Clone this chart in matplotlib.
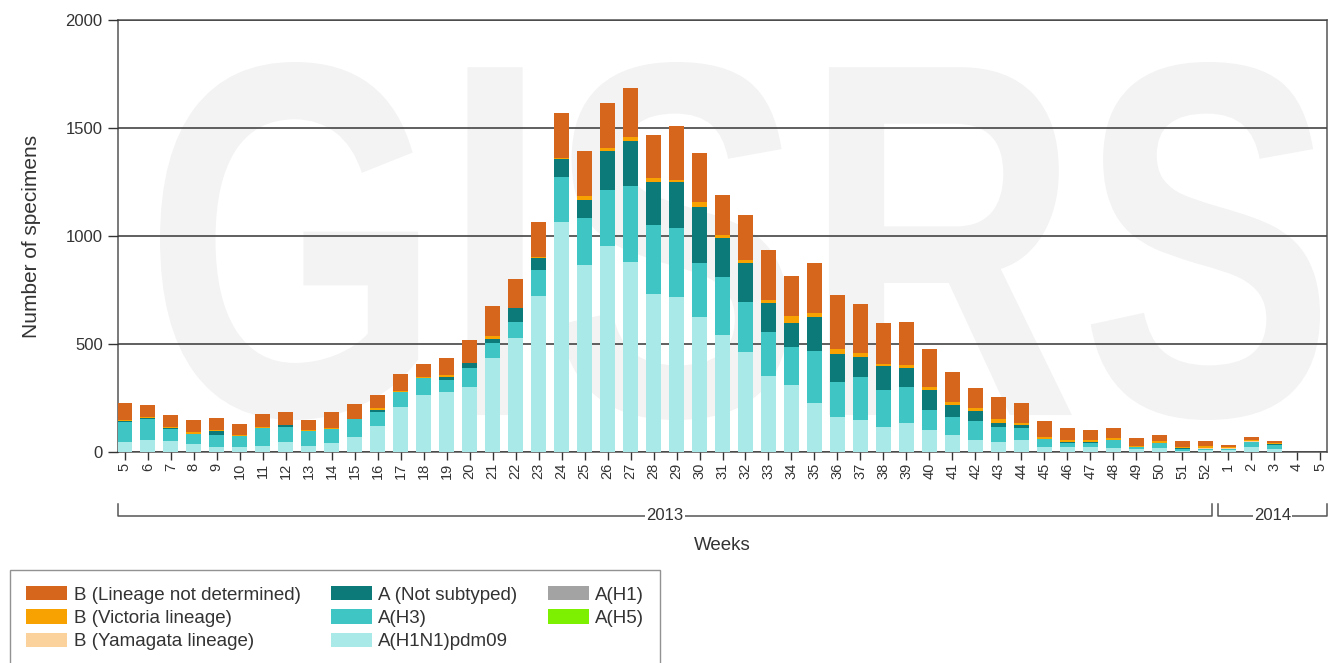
import matplotlib
matplotlib.use("Agg")
import matplotlib.pyplot as plt
import numpy as np
from matplotlib.patches import Patch, PathPatch
from matplotlib.textpath import TextPath
from matplotlib.font_manager import FontProperties
from matplotlib.transforms import Affine2D, blended_transform_factory
from matplotlib.lines import Line2D

plt.rcParams['font.family'] = ['Liberation Sans', 'DejaVu Sans']

weeks = [str(w) for w in range(5, 53)] + [str(w) for w in range(1, 6)]

b_not_det = [75, 54, 54, 57, 57, 51, 59, 62, 50, 77, 69, 62, 80, 59, 80, 108, 139, 134, 162, 206, 208, 208,
             227, 198, 250, 224, 185, 208, 232, 185, 232, 250, 228, 188, 199, 173, 139, 95, 102, 95, 73, 54,
             46, 46, 36, 28, 29, 26, 11, 13, 12, 0, 0]
b_victoria = [5, 5, 4, 8, 5, 3, 4, 0, 5, 3, 4, 8, 4, 5, 8, 0, 11, 0, 8, 8, 19, 12,
              16, 19, 5, 23, 15, 15, 12, 34, 16, 23, 16, 9, 15, 15, 15, 11, 16, 8, 12, 8,
              8, 11, 5, 8, 5, 9, 5, 5, 4, 0, 0]
b_yamagata = [0, 0, 0, 0, 0, 0, 0, 0, 0, 0, 0, 0, 0, 0, 0, 0, 0, 0, 0, 0, 0, 0,
              0, 0, 0, 0, 0, 0, 0, 0, 0, 0, 0, 0, 0, 0, 0, 0, 0, 0, 0, 0,
              0, 0, 0, 0, 0, 3, 5, 3, 0, 0, 0]
a_not_sub = [5, 5, 6, 0, 18, 0, 0, 11, 0, 0, 0, 8, 0, 0, 14, 23, 19, 62, 54, 81, 85, 181,
             210, 200, 216, 259, 178, 178, 134, 108, 157, 131, 93, 111, 88, 93, 54, 46, 19, 15, 0, 7,
             5, 0, 0, 0, 5, 0, 0, 0, 3, 0, 0]
a_h3 = [95, 100, 57, 46, 54, 51, 85, 67, 65, 67, 81, 66, 70, 80, 54, 85, 71, 77, 120, 208, 216, 258,
        350, 319, 317, 250, 270, 232, 205, 177, 241, 162, 200, 170, 167, 93, 85, 89, 69, 54, 34, 19,
        19, 38, 11, 26, 7, 6, 5, 26, 20, 0, 0]
a_h1n1 = [45, 54, 50, 39, 23, 25, 28, 47, 30, 40, 70, 120, 207, 264, 279, 302, 434, 526, 722, 1066, 866, 955,
          881, 732, 719, 626, 542, 464, 352, 310, 228, 163, 148, 117, 133, 102, 79, 56, 48, 55, 25, 22,
          22, 17, 12, 17, 5, 9, 7, 21, 13, 0, 0]
a_h1 = [0] * len(weeks)
a_h5 = [0] * len(weeks)

series = [
    ("A(H5)", a_h5, "#7CF000"),
    ("A(H1)", a_h1, "#A3A3A3"),
    ("A(H1N1)pdm09", a_h1n1, "#A9E9E8"),
    ("A(H3)", a_h3, "#3FC6C4"),
    ("A (Not subtyped)", a_not_sub, "#0B7A78"),
    ("B (Yamagata lineage)", b_yamagata, "#FBD29C"),
    ("B (Victoria lineage)", b_victoria, "#F7A200"),
    ("B (Lineage not determined)", b_not_det, "#D6661C"),
]
colors = {name: c for name, _, c in series}

W, H = 1329, 663
fig = plt.figure(figsize=(W / 100, H / 100), dpi=100)
ax = fig.add_axes([118 / W, 1 - 452 / H, (1327 - 118) / W, (452 - 20) / H])

# watermark
tp = TextPath((0, 0), "GISRS", size=1, prop=FontProperties(family='Liberation Sans', weight='bold'))
ext = tp.get_extents()
x0a, x1a = (160 - 118) / 1209, (1320 - 118) / 1209
y0a, y1a = (452 - 420) / 432, (452 - 62) / 432
tr = Affine2D().translate(-ext.x0, -ext.y0).scale((x1a - x0a) / ext.width, (y1a - y0a) / ext.height).translate(x0a, y0a)
ax.add_patch(PathPatch(tp, transform=tr + ax.transAxes, facecolor="#F3F3F3", edgecolor="none", zorder=0.5))

x = np.arange(len(weeks))
bottom = np.zeros(len(weeks))
for name, vals, col in series:
    v = np.array(vals, dtype=float)
    ax.bar(x, v, width=0.66, bottom=bottom, color=col, edgecolor="none", zorder=3)
    bottom += v

ax.set_xlim(-0.3, len(weeks) - 1 + 0.3)
ax.set_ylim(0, 2000)
ax.set_yticks([0, 500, 1000, 1500, 2000])
ax.yaxis.grid(True, color="#444444", linewidth=1.2, zorder=1)
ax.set_axisbelow(False)
ax.set_xticks(x)
ax.set_xticklabels(weeks, rotation=90, fontsize=10.5, color="#333333")
ax.tick_params(axis='y', labelsize=12, colors="#333333", length=7, width=1, pad=4)
ax.tick_params(axis='x', length=6, width=1, colors="#333333", pad=2)
for s in ax.spines.values():
    s.set_color("#555555")
    s.set_linewidth(1.1)
ax.set_ylabel("Number of specimens", fontsize=15, color="#333333", labelpad=18)

# year brackets
btr = blended_transform_factory(ax.transData, ax.transAxes)
yb = (452 - 516) / 432
yt = (452 - 504) / 432
i52 = weeks.index("52")
brackets = [(-0.3, i52 + 0.3, "2013"), (i52 + 0.55, len(weeks) - 1 + 0.3, "2014")]
for a, b, lab in brackets:
    ax.add_line(Line2D([a, a, b, b], [yt, yb, yb, yt], transform=btr, color="#555555",
                       linewidth=1.1, clip_on=False))
    ax.text((a + b) / 2, yb, lab, transform=btr, ha='center', va='center', fontsize=12,
            color="#333333", bbox=dict(facecolor='white', edgecolor='none', pad=1.0))
ax.text(0.5, (452 - 546) / 432, "Weeks", transform=ax.transAxes, ha='center', va='center',
        fontsize=13.5, color="#333333")

order = ["B (Lineage not determined)", "B (Victoria lineage)", "B (Yamagata lineage)",
         "A (Not subtyped)", "A(H3)", "A(H1N1)pdm09", "A(H1)", "A(H5)"]
handles = [Patch(facecolor=colors[n], edgecolor='none', label=n) for n in order]
leg = fig.legend(handles=handles, loc='upper left', bbox_to_anchor=(10 / W, 1 - 570 / H), ncol=3,
                 fontsize=13.5, frameon=True, fancybox=False, edgecolor="#777777",
                 handlelength=2.2, handleheight=0.8, columnspacing=1.6, labelspacing=0.3,
                 handletextpad=0.35, borderpad=0.85, labelcolor="#333333", borderaxespad=0)
leg.get_frame().set_linewidth(1.0)

fig.savefig("out.png", dpi=100)
